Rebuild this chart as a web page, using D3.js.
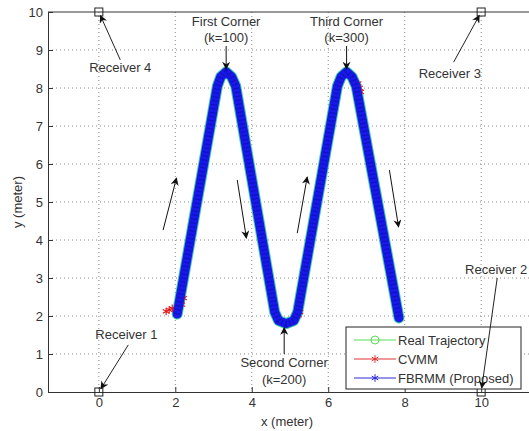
<!DOCTYPE html>
<html lang="en">
<head>
<meta charset="utf-8">
<style>
  body { margin: 0; background: white; }
  svg { font-family: 'Liberation Sans', Arial, sans-serif; }
  .grid line { stroke: #8a8a8a; stroke-dasharray: 1,3; }
  .axis path, .axis line { stroke: #333; }
  .axis text { fill: #333; font-size: 13px; }
  .note { font-size: 13px; fill: #333; }
</style>
</head>
<body>
<svg width="529" height="431"></svg>
<script src="https://d3js.org/d3.v7.min.js"></script>
<script>
// chart values
const xTicks = [0, 2, 4, 6, 8, 10];
const yTicks = [0, 1, 2, 3, 4, 5, 6, 7, 8, 9, 10];

// real trajectory waypoints
const trajX = [2.05, 3.1, 3.19, 3.33, 3.47, 3.58, 4.6, 4.7, 4.9, 5.1, 5.2, 6.24, 6.34, 6.48, 6.62, 6.73, 7.85];
const trajY = [2.05, 8.05, 8.3, 8.42, 8.3, 8.05, 2.1, 1.88, 1.8, 1.88, 2.1, 8.05, 8.3, 8.42, 8.3, 8.05, 1.95];

// CVMM points that stick out of the band
const cvmmX = [1.76, 1.84, 1.92, 2.0, 2.17, 2.22, 5.14, 5.22, 5.26, 6.78, 6.82, 6.85];
const cvmmY = [2.12, 2.16, 2.2, 2.16, 2.3, 2.47, 1.95, 2.02, 2.1, 8.12, 8.0, 7.9];

const receivers = [
  { name: "Receiver 1", x: 0, y: 0 },
  { name: "Receiver 2", x: 10, y: 0 },
  { name: "Receiver 3", x: 10, y: 10 },
  { name: "Receiver 4", x: 0, y: 10 }
];
// label positions in data units, arrow start
const recLabelX = [0.72, 10.42, 9.18, 0.56];
const recLabelY = [1.5, 3.22, 8.37, 8.52];
const recArrowX = [0.77, 10.42, 9.28, 0.56];
const recArrowY = [1.24, 3.0, 8.68, 8.74];

const corners = [
  { lines: ["First Corner", "(k=100)"], x: 3.33, y: 8.42, dir: -1 },
  { lines: ["Second Corner", "(k=200)"], x: 4.9, y: 1.8, dir: 1 },
  { lines: ["Third Corner", "(k=300)"], x: 6.48, y: 8.42, dir: -1 }
];

// direction arrows: [x1, y1, x2, y2]
const dirArrows = [
  [1.68, 4.26, 2.03, 5.63],
  [3.62, 5.58, 3.86, 4.05],
  [5.19, 4.18, 5.45, 5.66],
  [7.6, 5.84, 7.84, 4.34]
];

const legendNames = ["Real Trajectory", "CVMM", "FBRMM (Proposed)"];
const legendColors = ["#55dd55", "#dd3333", "#2a2ad8"];

const svg = d3.select("svg");
const mLeft = 48, mTop = 12, mBottom = 392;
const x = d3.scaleLinear().domain([-1.33, 11.33]).range([mLeft, 532]);
const y = d3.scaleLinear().domain([0, 10]).range([mBottom, mTop]);

svg.append("defs").append("marker")
  .attr("id", "head")
  .attr("viewBox", "0 0 10 10")
  .attr("refX", 9).attr("refY", 5)
  .attr("markerWidth", 10).attr("markerHeight", 8)
  .attr("markerUnits", "userSpaceOnUse")
  .attr("orient", "auto")
  .append("path").attr("d", "M0,0 L10,5 L0,10 L3,5 Z").attr("fill", "#111");

// grid
const grid = svg.append("g").attr("class", "grid");
grid.selectAll(".vx").data(xTicks).join("line")
  .attr("x1", d => x(d)).attr("x2", d => x(d)).attr("y1", mTop).attr("y2", mBottom);
grid.selectAll(".hy").data(yTicks.slice(1, -1)).join("line")
  .attr("x1", mLeft).attr("x2", 529).attr("y1", d => y(d)).attr("y2", d => y(d));

// axes
svg.append("g").attr("class", "axis")
  .attr("transform", `translate(0,${mBottom})`)
  .call(d3.axisBottom(x).tickValues(xTicks).tickSizeInner(-5).tickSizeOuter(0).tickPadding(6));
svg.append("g").attr("class", "axis")
  .attr("transform", `translate(${mLeft},0)`)
  .call(d3.axisLeft(y).tickValues(yTicks).tickSizeInner(-5).tickSizeOuter(0).tickPadding(5));
svg.append("line").attr("x1", mLeft).attr("x2", 529).attr("y1", mTop).attr("y2", mTop)
  .attr("stroke", "#333");

svg.append("text").attr("class", "note").attr("x", 287).attr("y", 426)
  .attr("text-anchor", "middle").text("x (meter)");
svg.append("text").attr("class", "note")
  .attr("transform", "translate(22,202) rotate(-90)")
  .attr("text-anchor", "middle").text("y (meter)");

// trajectories
const pts = trajX.map((d, i) => [d, trajY[i]]);
const line = d3.line().x(d => x(d[0])).y(d => y(d[1]));
const band = (stroke, w) => svg.append("path").attr("d", line(pts)).attr("fill", "none")
  .attr("stroke", stroke).attr("stroke-width", w)
  .attr("stroke-linecap", "round").attr("stroke-linejoin", "round");
band("#3fcf9f", 11);

const ast = d3.symbol().type(d3.symbolAsterisk || d3.symbolCross).size(40);
svg.append("g").selectAll("path").data(cvmmX).join("path")
  .attr("transform", (d, i) => `translate(${x(d)},${y(cvmmY[i])})`)
  .attr("d", ast).attr("fill", "none").attr("stroke", "#e02020").attr("stroke-width", 1.2);

band("#1818e8", 9);
band("#0a0aa0", 6).attr("stroke-dasharray", "1,3").attr("stroke-opacity", 0.6)
  .attr("stroke-linecap", "butt");

// receivers
svg.append("g").selectAll("rect").data(receivers).join("rect")
  .attr("x", d => x(d.x) - 4).attr("y", d => y(d.y) - 4)
  .attr("width", 8).attr("height", 8)
  .attr("fill", "none").attr("stroke", "#222");

// direction arrows
svg.append("g").selectAll("line").data(dirArrows).join("line")
  .attr("x1", d => x(d[0])).attr("y1", d => y(d[1]))
  .attr("x2", d => x(d[2])).attr("y2", d => y(d[3]))
  .attr("stroke", "#111").attr("marker-end", "url(#head)");

// corners
corners.forEach(c => {
  const tx = x(c.x);
  if (c.dir < 0) {
    svg.append("text").attr("class", "note").attr("x", tx).attr("y", 26)
      .attr("text-anchor", "middle").text(c.lines[0]);
    svg.append("text").attr("class", "note").attr("x", tx).attr("y", 42)
      .attr("text-anchor", "middle").text(c.lines[1]);
    svg.append("line").attr("x1", tx).attr("x2", tx).attr("y1", 46).attr("y2", y(c.y) - 3)
      .attr("stroke", "#111").attr("marker-end", "url(#head)");
  } else {
    svg.append("text").attr("class", "note").attr("x", tx - 2).attr("y", 367)
      .attr("text-anchor", "middle").text(c.lines[0]);
    svg.append("text").attr("class", "note").attr("x", tx - 2).attr("y", 384)
      .attr("text-anchor", "middle").text(c.lines[1]);
    svg.append("line").attr("x1", tx - 2).attr("x2", tx - 2).attr("y1", 354).attr("y2", y(c.y) + 4)
      .attr("stroke", "#111").attr("marker-end", "url(#head)");
  }
});

// legend
const lg = svg.append("g").attr("transform", "translate(346,327)");
lg.append("rect").attr("width", 175).attr("height", 62).attr("fill", "white").attr("stroke", "#222");
legendNames.forEach((n, i) => {
  const ry = 13 + i * 19;
  lg.append("line").attr("x1", 8).attr("x2", 50).attr("y1", ry).attr("y2", ry)
    .attr("stroke", legendColors[i]);
  if (i === 0) {
    lg.append("circle").attr("cx", 29).attr("cy", ry).attr("r", 4)
      .attr("fill", "none").attr("stroke", legendColors[i]);
  } else {
    lg.append("path").attr("transform", `translate(29,${ry})`).attr("d", ast)
      .attr("fill", "none").attr("stroke", legendColors[i]);
  }
  lg.append("text").attr("class", "note").attr("x", 52).attr("y", ry + 5)
    .text(n);
});

// receiver labels and arrows (drawn on top)
receivers.forEach((r, i) => {
  svg.append("text").attr("class", "note")
    .attr("x", x(recLabelX[i])).attr("y", y(recLabelY[i]) + 4)
    .attr("text-anchor", i === 1 ? "end" : "middle")
    .attr("dx", i === 1 ? 30 : 0)
    .text(r.name);
  const dx = x(r.x) - x(recArrowX[i]), dy = y(r.y) - y(recArrowY[i]);
  const len = Math.hypot(dx, dy);
  svg.append("line")
    .attr("x1", x(recArrowX[i])).attr("y1", y(recArrowY[i]))
    .attr("x2", x(r.x) - dx / len * 4).attr("y2", y(r.y) - dy / len * 4)
    .attr("stroke", "#222").attr("marker-end", "url(#head)");
});
</script>
</body>
</html>
